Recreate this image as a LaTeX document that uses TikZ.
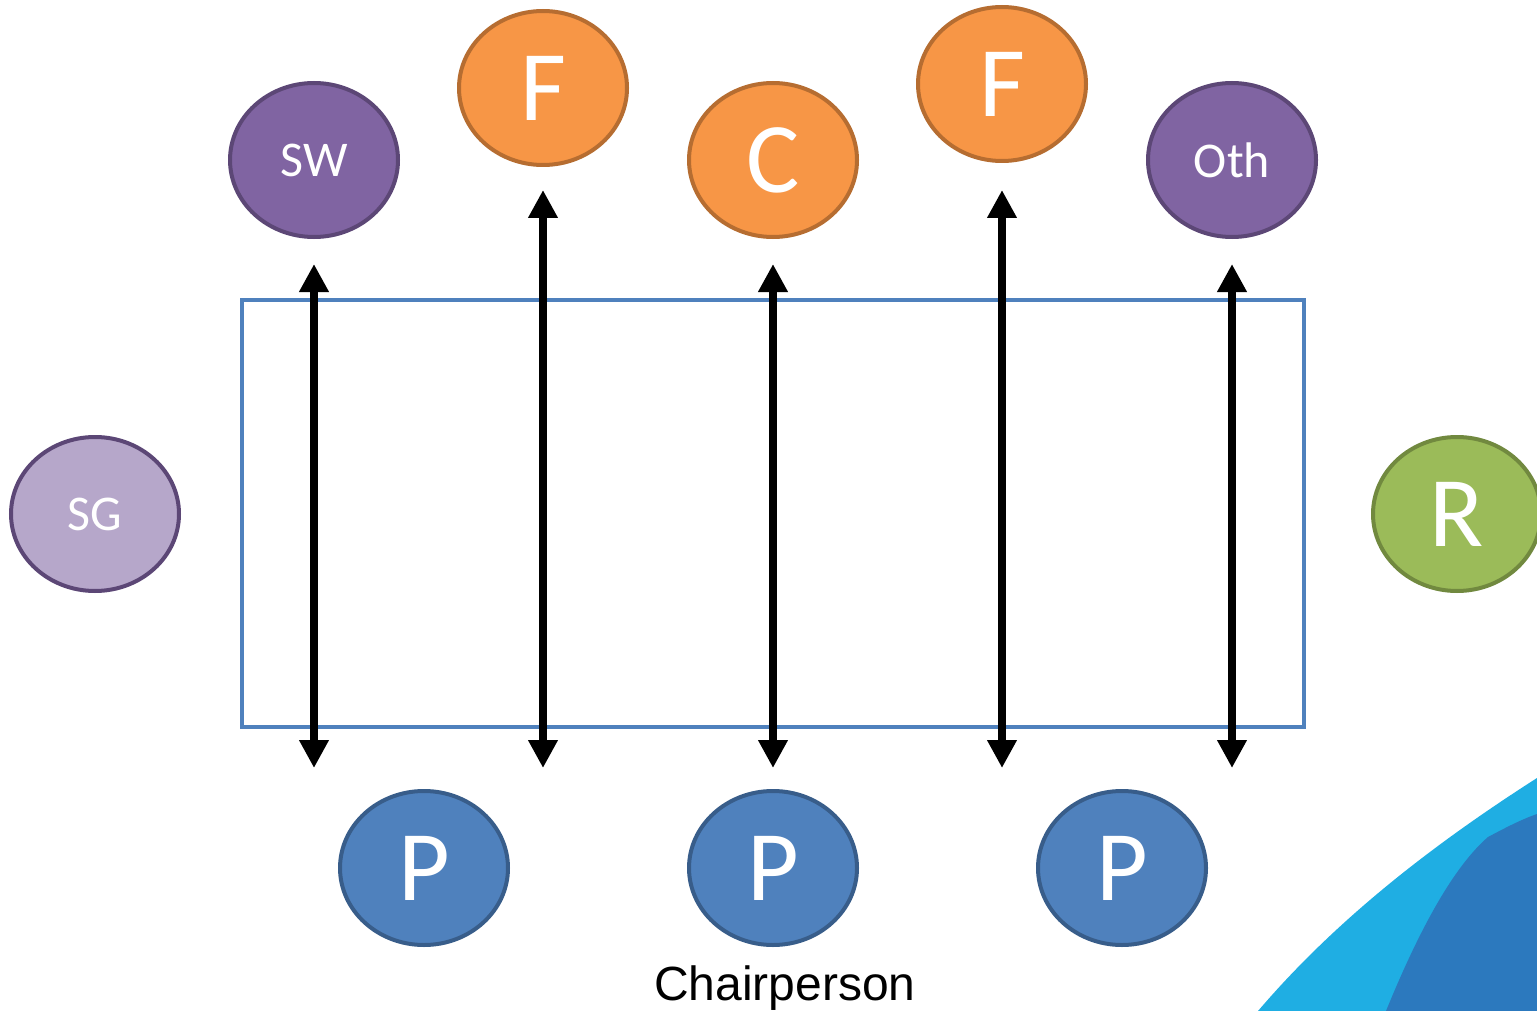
\documentclass[tikz,border=0pt]{standalone}
\usepackage{fontspec}
\setmainfont{Carlito}
\newfontfamily\arialfont{Liberation Sans}
\usetikzlibrary{shapes.geometric,arrows.meta}
\definecolor{purfill}{HTML}{8064A2}
\definecolor{purline}{HTML}{5C4776}
\definecolor{lpurfill}{HTML}{B6A7CA}
\definecolor{orfill}{HTML}{F79646}
\definecolor{orline}{HTML}{B66D31}
\definecolor{blfill}{HTML}{4F81BD}
\definecolor{blline}{HTML}{385D8A}
\definecolor{grfill}{HTML}{9BBB59}
\definecolor{grline}{HTML}{71893F}
\definecolor{boxblue}{HTML}{4F81BD}
\definecolor{swlight}{HTML}{1FAEE3}
\definecolor{swdark}{HTML}{2C79BE}
\tikzset{
  oval/.style={ellipse, minimum width=168pt, minimum height=154pt, inner sep=0pt, line width=4pt, text=white},
  purple oval/.style={oval, fill=purfill, draw=purline},
  lpurple oval/.style={oval, fill=lpurfill, draw=purline},
  orange oval/.style={oval, fill=orfill, draw=orline},
  blue oval/.style={oval, fill=blfill, draw=blline},
  green oval/.style={oval, fill=grfill, draw=grline},
  small label/.style={font=\fontsize{50}{52}\selectfont},
  big label/.style={font=\fontsize{100}{102}\selectfont},
  dblarrow/.style={line width=8.5pt, {Triangle[width=28pt,length=28pt]}-{Triangle[width=28pt,length=28pt]}},
}
\begin{document}
\begin{tikzpicture}[x=1pt,y=-1pt]
\useasboundingbox (0,0) rectangle (1537,1011);
% decorative swoosh
\fill[swlight] (1258,1011) .. controls (1340,915) and (1440,840) .. (1537,778) -- (1537,1011) -- cycle;
\fill[swdark] (1386,1011) .. controls (1415,940) and (1450,870) .. (1488,837) .. controls (1505,828) and (1520,820) .. (1537,814) -- (1537,1011) -- cycle;
% box
\node[draw=boxblue, line width=4.5pt, minimum width=1062pt, minimum height=427pt, inner sep=0pt] (box) at (773,513.5) {};
% ovals
\node[purple oval, small label] (sw) at (314,160) {SW};
\node[orange oval, big label] (f1) at (543,88) {F};
\node[orange oval, big label] (c) at (773,160) {C};
\node[orange oval, big label] (f2) at (1002,84) {F};
\node[purple oval, small label] (oth) at (1232,160) {Oth};
\node[lpurple oval, small label] (sg) at (95,514) {SG};
\node[green oval, big label] (r) at (1457,514) {R};
\node[blue oval, big label] (p1) at (424,868) {P};
\node[blue oval, big label] (p2) at (773,868) {P};
\node[blue oval, big label] (p3) at (1122,868) {P};
\node[font=\arialfont\fontsize{48}{50}\selectfont, anchor=base] (chair) at (785,1000) {Chairperson};
% arrow end points
\coordinate (e1) at (314,768);
\coordinate (e2) at (543,768);
\coordinate (e3) at (773,768);
\coordinate (e4) at (1002,768);
\coordinate (e5) at (1232,768);
\draw[dblarrow, shorten <=25pt] (sw.south) -- (e1);
\draw[dblarrow, shorten <=23pt] (f1.south) -- (e2);
\draw[dblarrow, shorten <=25pt] (c.south) -- (e3);
\draw[dblarrow, shorten <=27pt] (f2.south) -- (e4);
\draw[dblarrow, shorten <=25pt] (oth.south) -- (e5);
\end{tikzpicture}
\end{document}
